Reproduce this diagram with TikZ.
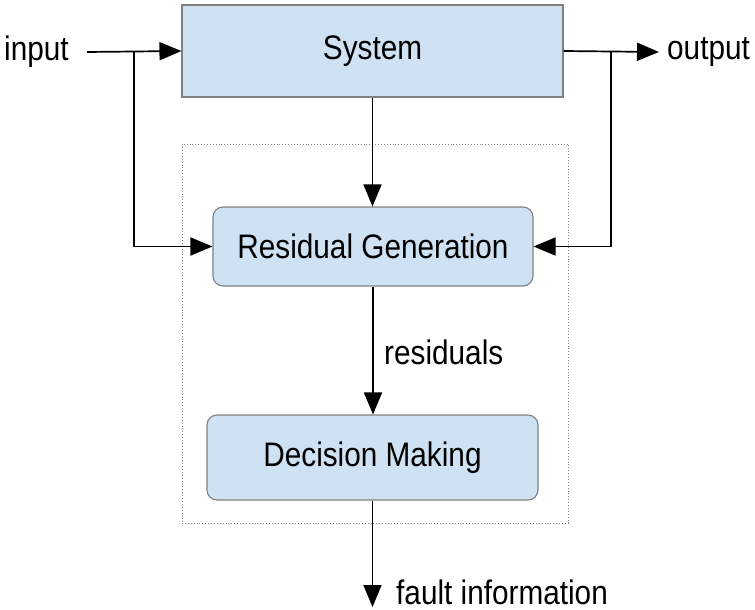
\documentclass[tikz,border=0pt]{standalone}
\usepackage{fontspec}
\setmainfont{Liberation Sans}[FakeStretch=0.875]
\usetikzlibrary{arrows.meta}
\definecolor{boxfill}{RGB}{207,226,243}
\definecolor{boxline}{RGB}{128,128,128}
\tikzset{
  blockbox/.style={draw=boxline, line width=1.1pt, fill=boxfill, inner sep=0pt, font=\fontsize{34}{40}\selectfont},
  roundbox/.style={blockbox, rounded corners=10pt},
  lbl/.style={inner sep=0pt, font=\fontsize{34}{40}\selectfont},
  conn/.style={line width=1.7pt, -{Triangle[length=22pt,width=18pt]}},
  frame/.style={draw=boxline, line width=0.9pt, dotted}
}
\begin{document}
\begin{tikzpicture}[x=1pt,y=-1pt]
\useasboundingbox (0,0) rectangle (755,610);
\node[frame, minimum width=386pt, minimum height=379pt, inner sep=0pt] (fr) at (375,333.5) {};
\node[blockbox, minimum width=381pt, minimum height=92pt] (sys) at (372.5,51) {System};
\node[roundbox, minimum width=320pt, minimum height=79pt] (res) at (373,246.5) {Residual Generation};
\node[roundbox, minimum width=331pt, minimum height=85pt] (dec) at (372.5,457.5) {Decision Making};
\node[lbl, anchor=west] (in) at (4,52) {input};
\node[lbl, anchor=west] (out) at (667,52) {output};
\node[lbl, anchor=west] (rl) at (384,352) {residuals};
\node[lbl, anchor=west] (fi) at (396,592) {fault information};
\coordinate (inS) at (87,52);
\coordinate (inB) at (134,52);
\coordinate (outE) at (659,52);
\coordinate (outB) at (611,52);
\coordinate (fiE) at (372.5,607);
\draw[conn] (inS) -- (sys.west);
\draw[conn] (inB) |- (res.west);
\draw[conn] (sys.east) -- (outE);
\draw[conn] (outB) |- (res.east);
\draw[conn] (sys.south) -- (sys.south |- res.north);
\draw[conn] (res.south) -- (res.south |- dec.north);
\draw[conn] (dec.south) -- (fiE);
\end{tikzpicture}
\end{document}
